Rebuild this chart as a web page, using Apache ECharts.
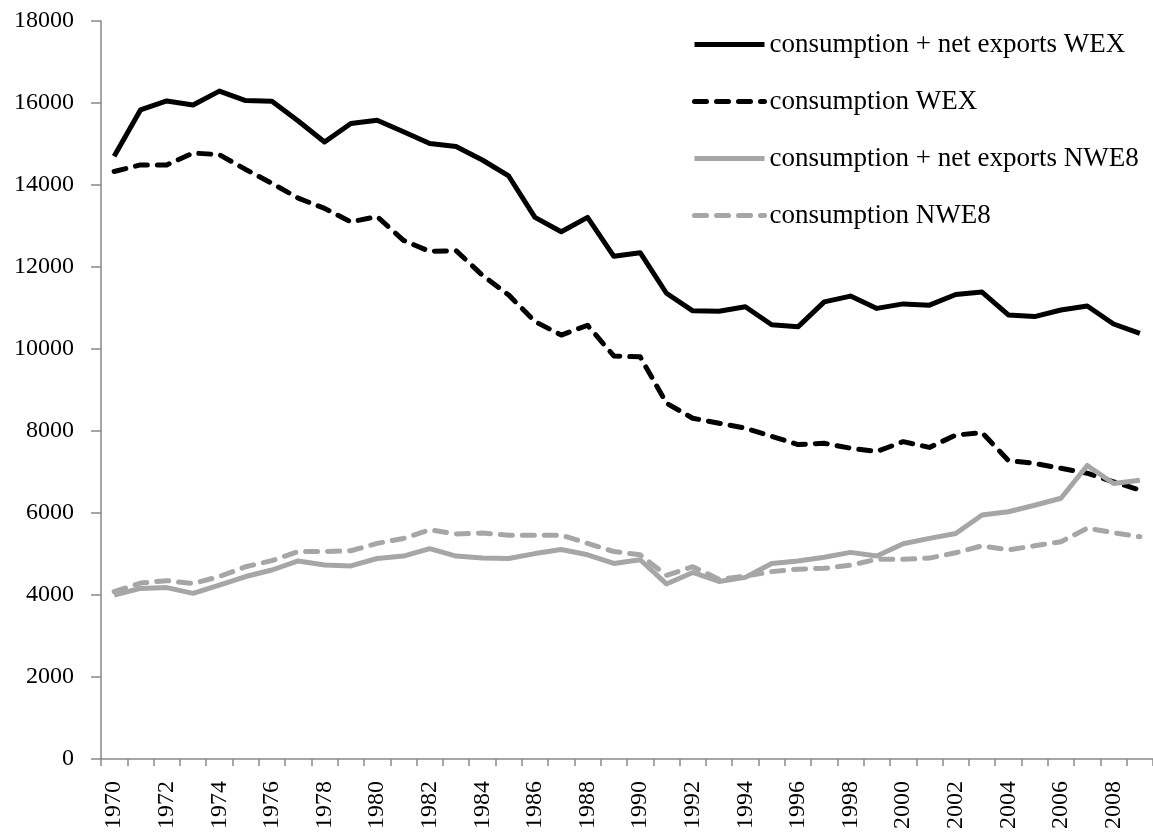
<!DOCTYPE html>
<html>
<head>
<meta charset="utf-8">
<script src="https://cdn.jsdelivr.net/npm/echarts@6/dist/echarts.min.js"></script>
<style>
html,body{margin:0;padding:0;background:#fff;}
#chart{width:1153px;height:838px;}
</style>
</head>
<body>
<div id="chart"></div>
<script>
var years = [];
for (var y = 1970; y <= 2009; y++) years.push(String(y));

var seriesNames = [
  'consumption + net exports WEX',
  'consumption WEX',
  'consumption + net exports NWE8',
  'consumption NWE8'
];

var wexTotal = [14700, 15830, 16050, 15950, 16290, 16060, 16040, 15560, 15050, 15500,
  15580, 15300, 15010, 14940, 14610, 14220, 13210, 12860, 13210, 12260,
  12350, 11360, 10930, 10920, 11030, 10590, 10540, 11150, 11290, 10990,
  11100, 11070, 11330, 11390, 10830, 10790, 10950, 11050, 10610, 10380];

var wexCons = [14330, 14490, 14490, 14780, 14740, 14380, 14040, 13680, 13430, 13100,
  13230, 12650, 12380, 12400, 11800, 11320, 10670, 10340, 10580, 9830,
  9810, 8680, 8310, 8190, 8070, 7870, 7670, 7700, 7580, 7500,
  7740, 7600, 7900, 7960, 7280, 7210, 7090, 6970, 6760, 6560];

var nweTotal = [4000, 4160, 4180, 4040, 4240, 4450, 4610, 4830, 4730, 4710,
  4890, 4950, 5130, 4950, 4900, 4890, 5010, 5110, 4980, 4770,
  4860, 4270, 4550, 4330, 4430, 4770, 4830, 4920, 5040, 4950,
  5250, 5380, 5500, 5950, 6030, 6190, 6360, 7160, 6720, 6800];

var nweCons = [4080, 4290, 4350, 4280, 4450, 4690, 4840, 5060, 5060, 5080,
  5260, 5380, 5590, 5490, 5510, 5460, 5460, 5460, 5260, 5060,
  4980, 4480, 4690, 4380, 4460, 4570, 4630, 4650, 4730, 4870,
  4870, 4900, 5030, 5200, 5100, 5200, 5300, 5630, 5520, 5420];

var FONT = '"Liberation Serif", "Times New Roman", serif';
var AXIS_COLOR = '#898989';

function mkSeries(name, data, color, dashed) {
  return {
    name: name,
    type: 'line',
    data: data,
    symbol: 'none',
    showSymbol: false,
    lineStyle: {
      color: color,
      width: 5,
      type: dashed ? [12, 10] : 'solid',
      cap: dashed ? 'round' : 'butt',
      join: 'round'
    },
    itemStyle: { color: color },
    emphasis: { disabled: true }
  };
}

var chart = echarts.init(document.getElementById('chart'));
chart.setOption({
  animation: false,
  backgroundColor: '#ffffff',
  grid: { left: 101, right: 0, top: 21, bottom: 79, containLabel: false },
  legend: {
    orient: 'vertical',
    left: 687,
    top: 26,
    itemWidth: 70,
    itemHeight: 14,
    itemGap: 30,
    itemStyle: { opacity: 0 },
    lineStyle: { width: 5 },
    textStyle: { fontFamily: FONT, fontSize: 27, color: '#000' },
    data: seriesNames
  },
  xAxis: {
    type: 'category',
    data: years,
    boundaryGap: true,
    axisLine: { lineStyle: { color: AXIS_COLOR, width: 1.5 } },
    axisTick: { show: true, interval: 0, length: 7, lineStyle: { color: AXIS_COLOR, width: 1.5 } },
    axisLabel: { interval: 1, rotate: 90, margin: 22, fontFamily: FONT, fontSize: 24, color: '#000' },
    splitLine: { show: false }
  },
  yAxis: {
    type: 'value',
    min: 0,
    max: 18000,
    interval: 2000,
    axisLine: { show: true, lineStyle: { color: AXIS_COLOR, width: 1.5 } },
    axisTick: { show: true, length: 10, lineStyle: { color: AXIS_COLOR, width: 1.5 } },
    axisLabel: {
      margin: 27, fontFamily: FONT, fontSize: 24, color: '#000',
      formatter: function (v) { return String(v); }
    },
    splitLine: { show: false }
  },
  series: [
    mkSeries(seriesNames[0], wexTotal, '#000000', false),
    mkSeries(seriesNames[1], wexCons, '#000000', true),
    mkSeries(seriesNames[2], nweTotal, '#a6a6a6', false),
    mkSeries(seriesNames[3], nweCons, '#a6a6a6', true)
  ]
});
</script>
</body>
</html>
